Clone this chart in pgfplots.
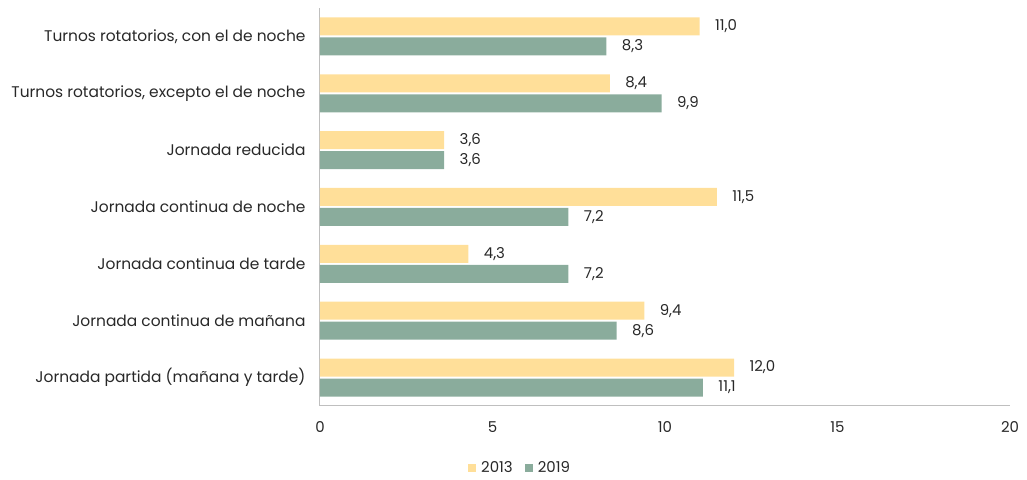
\documentclass[border=0pt]{standalone}
\usepackage{pgfplots}
\pgfplotsset{compat=1.18}
\usepackage{fontspec}
\setmainfont{Poppins}
\definecolor{cy}{RGB}{255,223,153}
\definecolor{cg}{RGB}{138,172,156}
\definecolor{axgray}{RGB}{191,191,191}
\definecolor{txt}{RGB}{40,40,40}
\begin{document}
\begin{tikzpicture}
\begin{axis}[
  scale only axis,
  width=690bp, height=398bp,
  xmin=0, xmax=20, ymin=-0.5, ymax=6.5,
  xtick={0,5,10,15,20},
  ytick={0,1,2,3,4,5,6},
  yticklabels={Jornada partida (mañana y tarde),Jornada continua de mañana,Jornada continua de tarde,Jornada continua de noche,Jornada reducida,{Turnos rotatorios, excepto el de noche},{Turnos rotatorios, con el de noche}},
  axis lines=left,
  axis line style={-,draw=axgray,line width=1pt},
  major tick length=0pt,
  tick label style={font=\fontsize{15}{17}\selectfont, text=txt},
  yticklabel style={xshift=-11bp, font=\fontsize{15.5}{17}\selectfont},
  xticklabel style={yshift=-12bp},
  /pgf/number format/assume math mode=true,
  xbar,
  bar width=18bp,
  nodes near coords,
  nodes near coords style={font=\fontsize{15}{17}\selectfont, text=txt, anchor=west, xshift=12bp, /pgf/number format/.cd, fixed, fixed zerofill, precision=1, use comma, assume math mode=true},
  legend style={at={(0.29,-0.155)}, anchor=center, legend columns=2, draw=none, font=\fontsize{15}{17}\selectfont, text=txt, /tikz/every odd column/.append style={column sep=3bp}, /tikz/every even column/.append style={column sep=10bp}},
  legend image code/.code={\fill[#1] (0bp,-4bp) rectangle (8bp,4bp);},
  clip=false,
]
\addplot[draw=none, fill=cy, bar shift=10bp] coordinates {(12.0,0) (9.4,1) (4.3,2) (11.5,3) (3.6,4) (8.4,5) (11.0,6)};
\addplot[draw=none, fill=cg, bar shift=-10bp] coordinates {(11.1,0) (8.6,1) (7.2,2) (7.2,3) (3.6,4) (9.9,5) (8.3,6)};
\legend{2013,2019}
\end{axis}
\path ([shift={(-320bp,-74bp)}]current axis.south west) rectangle ([shift={(17bp,8bp)}]current axis.north east);
\end{tikzpicture}
\end{document}
